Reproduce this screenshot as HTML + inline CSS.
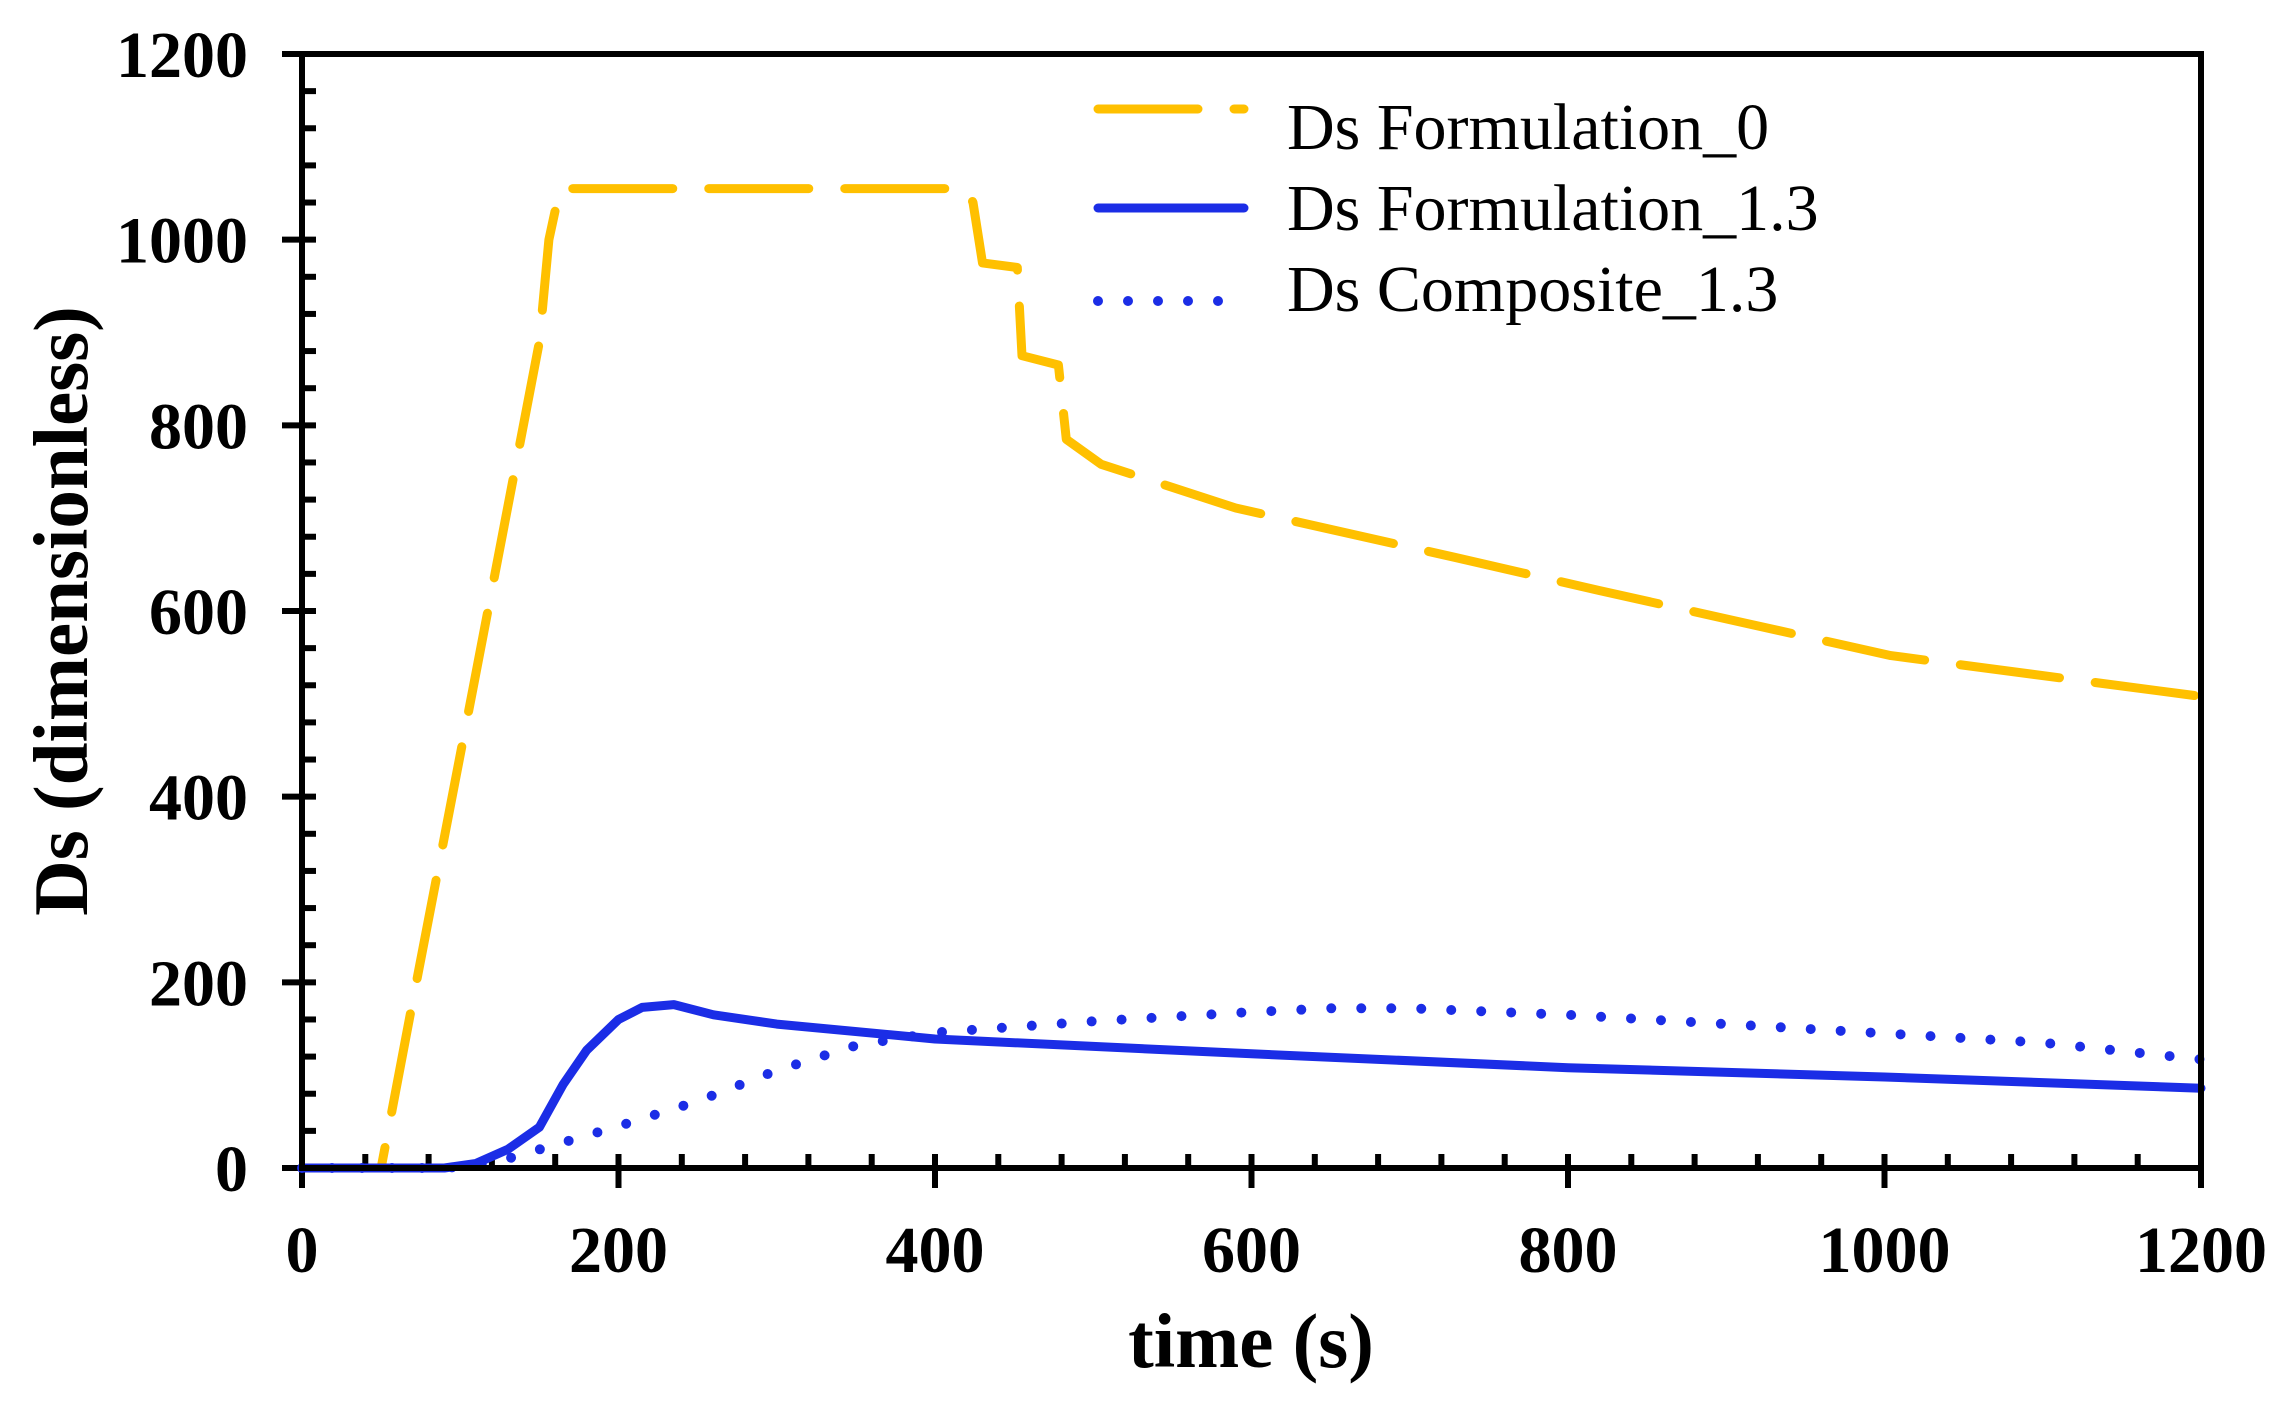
<!DOCTYPE html>
<html><head><meta charset="utf-8"><style>
html,body{margin:0;padding:0;background:#fff;}
svg{display:block;font-family:"Liberation Serif",serif;}
</style></head><body>
<svg id="chart" width="2281" height="1405" viewBox="0 0 2281 1405">
<g id="ticks"></g>
<g id="series"></g>
<rect x="302" y="54" width="1899" height="1114" fill="none" stroke="#000" stroke-width="6"/>
<text x="61" y="611" transform="rotate(-90 61 611)" text-anchor="middle" dominant-baseline="central" font-size="77" font-weight="bold">Ds (dimensionless)</text>
<text x="1251" y="1367" text-anchor="middle" font-size="77" font-weight="bold">time (s)</text>
<g>
<g>
<line x1="1098" y1="109" x2="1244" y2="109" stroke="#FFC000" stroke-width="9" stroke-dasharray="100 36" stroke-linecap="round"/>
<text x="1287" y="149" font-size="66">Ds Formulation_0</text></g>
<g>
<line x1="1098" y1="208" x2="1244" y2="208" stroke="#1B2DE6" stroke-width="9" stroke-linecap="round"/>
<text x="1287" y="230" font-size="66">Ds Formulation_1.3</text></g>
<g>
<line x1="1098" y1="301" x2="1244" y2="301" stroke="#1B2DE6" stroke-width="10" stroke-dasharray="0 30" stroke-linecap="round"/>
<text x="1287" y="311" font-size="66">Ds Composite_1.3</text></g>
</g>
</svg>
<script>
const xTicks = [0, 200, 400, 600, 800, 1000, 1200];
const yTicks = [0, 200, 400, 600, 800, 1000, 1200];
const f0T = [0, 50, 70, 108, 150, 156, 163, 420, 424, 430, 452, 455, 478, 483, 505, 590, 728, 820, 912, 1004, 1200];
const f0V = [0, 0, 180, 516, 890, 1000, 1055, 1055, 1040, 975, 970, 875, 865, 785, 758, 711, 658, 622, 587, 552, 508];
const f13T = [0, 90, 110, 130, 150, 165, 180, 200, 215, 235, 260, 300, 400, 600, 800, 1000, 1200];
const f13V = [0, 0, 5, 20, 44, 90, 127, 160, 173, 176, 165, 155, 139, 123, 108, 98, 86];
const c13T = [0, 90, 110, 130, 160, 200, 250, 300, 350, 400, 500, 600, 650, 700, 800, 900, 1000, 1100, 1200];
const c13V = [0, 0, 3, 10, 25, 45, 72, 105, 132, 146, 158, 168, 172, 172, 165, 155, 145, 135, 117];

const X0=302, X1=2201, Y0=1168, Y1=54;
const sx = t => X0 + (t/1200)*(X1-X0);
const sy = v => Y0 - (v/1200)*(Y0-Y1);
const NS='http://www.w3.org/2000/svg';
const tg=document.getElementById('ticks');
function ln(g,x1,y1,x2,y2,w){const l=document.createElementNS(NS,'line');l.setAttribute('x1',x1);l.setAttribute('y1',y1);l.setAttribute('x2',x2);l.setAttribute('y2',y2);l.setAttribute('stroke','#000');l.setAttribute('stroke-width',w);g.appendChild(l);return l;}
for(let v=0; v<=1200; v+=40){
  const y=sy(v), major=v%200===0;
  const l=ln(tg, major?X0-20:X0, y, X0+14, y, 6);
  
  
  const x=sx(v);
  const m=ln(tg, x, Y0-14, x, major?Y0+20:Y0, 6);
  
  
}
yTicks.forEach(v=>{const t=document.createElementNS(NS,'text');t.setAttribute('x',248);t.setAttribute('y',sy(v)+23);t.setAttribute('text-anchor','end');t.setAttribute('font-size','66');t.setAttribute('font-weight','bold');t.textContent=v;


tg.appendChild(t);});
xTicks.forEach(v=>{const t=document.createElementNS(NS,'text');t.setAttribute('x',sx(v));t.setAttribute('y',1272);t.setAttribute('text-anchor','middle');t.setAttribute('font-size','66');t.setAttribute('font-weight','bold');t.textContent=v;


tg.appendChild(t);});
const sg=document.getElementById('series');
function path(T,V,color,w,dash,name){
  const p=document.createElementNS(NS,'path');
  p.setAttribute('d',T.map((t,i)=>(i?'L':'M')+sx(t).toFixed(1)+','+sy(V[i]).toFixed(1)).join(''));
  p.setAttribute('fill','none');p.setAttribute('stroke',color);p.setAttribute('stroke-width',w);
  p.setAttribute('stroke-linecap','round');p.setAttribute('stroke-linejoin','round');
  if(dash)p.setAttribute('stroke-dasharray',dash);
  
  
  sg.appendChild(p);
}
path(f0T,f0V,'#FFC000',9,'100 36','series-formulation-0');
path(c13T,c13V,'#1B2DE6',10,'0 30','series-composite-1-3');
path(f13T,f13V,'#1B2DE6',9,null,'series-formulation-1-3');
</script>
</body></html>
